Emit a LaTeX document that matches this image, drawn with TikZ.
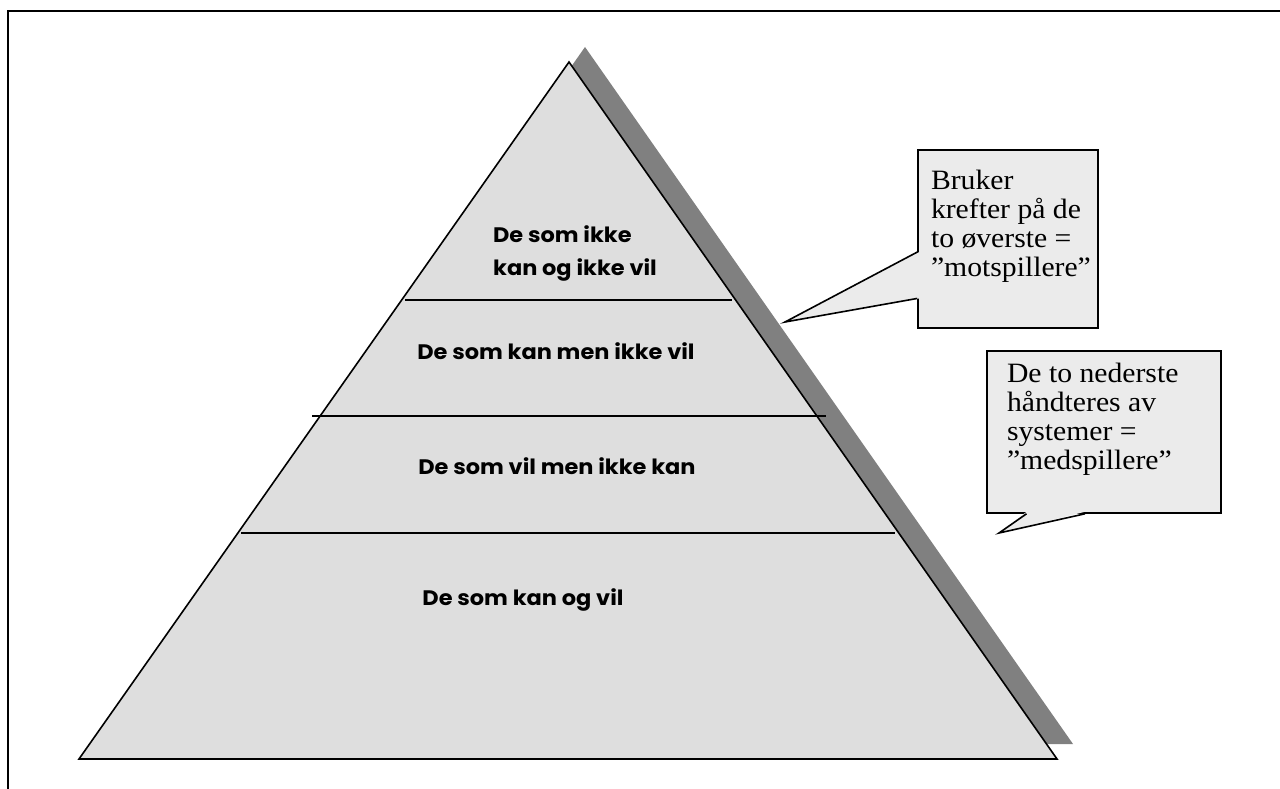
\documentclass[tikz,border=0pt]{standalone}
\usepackage{fontspec}
\setmainfont{Liberation Serif}
\newfontfamily\tierfont{Poppins}[FakeStretch=1.07]
\newfontfamily\notefont{Liberation Serif}[FakeStretch=1.06]
\usepackage{tikz}
\usetikzlibrary{calc}
\tikzset{
  frame/.style     = { line width=2.5pt, line join=miter },
  layer/.style     = { fill=black!13, draw=black, line width=1.6pt },
  dropshade/.style = { fill=black!50 },
  divider/.style   = { line width=1.4pt },
  tier/.style      = { font=\tierfont\bfseries\fontsize{21}{33}\selectfont, align=left },
}
\tikzset{
  note/.style      = { rectangle, draw=black, line width=1.6pt, fill=black!8,
                       font=\notefont\fontsize{28}{29}\selectfont, align=flush left,
                       execute at end node={\rule[-32pt]{0pt}{32pt}} },
  pointer/.style   = { line width=1.6pt, line join=miter },
}

\begin{document}
\begin{tikzpicture}[x=1pt,y=-1pt]
  \useasboundingbox (0,0) rectangle (1280,789);
  \draw [frame] (1280,11) -- (8,11) -- (8,789);

  % pyramid and its drop shadow
  \fill [dropshade] (585,47) -- (1073,744) -- (95,744) -- cycle;
  \filldraw [layer] (569,62) -- (1057,759) -- (79,759) -- cycle;
  \draw [divider] (405,300) -- (732,300);
  \draw [divider] (312,416) -- (826,416);
  \draw [divider] (241,533) -- (895,533);

  \node (ikkeikke) [tier] at (575,253) {De som ikke\\kan og ikke vil};
  \node (kanikke)  [tier] at (556,351) {De som kan men ikke vil};
  \node (vilikke)  [tier] at (557,466) {De som vil men ikke kan};
  \node (kanvil)   [tier] at (523,600) {De som kan og vil};

  % callouts
  \node (mot) [note, text width=154pt, inner xsep=13pt, minimum height=178pt]
        at (1008,239) {Bruker\\krefter på de\\to øverste =\\”motspillere”};
  \node (med) [note, text width=194pt, inner xsep=20pt, minimum height=162pt]
        at (1104,432) {De to nederste\\håndteres av\\systemer =\\”medspillere”};

  \coordinate (motTip) at (785,322);
  \coordinate (motA) at ($(mot.north west)!.573!(mot.south west)$);
  \coordinate (motB) at ($(mot.north west)!.831!(mot.south west)$);
  \fill [black!8] ($(motA)+(2,0)$) -- (motTip) -- ($(motB)+(2,0)$) -- cycle;
  \draw [pointer] (motA) -- (motTip) -- (motB);

  \coordinate (medTip) at (999,533);
  \coordinate (medA) at ($(med.south west)!.171!(med.south east)$);
  \coordinate (medB) at ($(med.south west)!.419!(med.south east)$);
  \fill [black!8] ($(medA)+(0,-2)$) -- (medTip) -- ($(medB)+(0,-2)$) -- cycle;
  \draw [pointer] (medA) -- (medTip) -- (medB);
\end{tikzpicture}
\end{document}
